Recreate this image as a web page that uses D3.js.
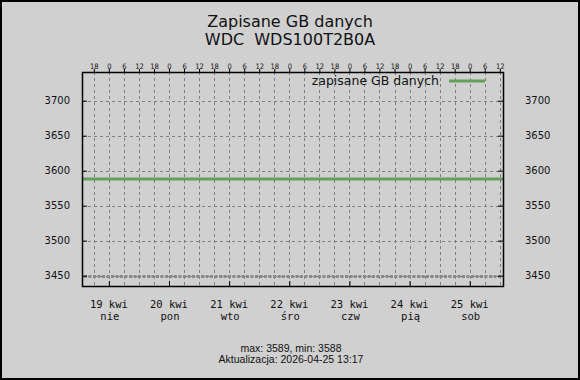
<!DOCTYPE html>
<html><head><meta charset="utf-8">
<script src="https://cdn.jsdelivr.net/npm/d3@7"></script>
<style>html,body{margin:0;padding:0;background:#d0d0d0;}svg{display:block;}text{white-space:pre;}</style>
</head><body>
<script>
const titleLines = ["Zapisane GB danych", "WDC  WDS100T2B0A"];
const seriesName = "zapisane GB danych";
const times = ["2026-04-18T13:17","2026-04-19T13:17","2026-04-20T13:17","2026-04-21T13:17","2026-04-22T13:17","2026-04-23T13:17","2026-04-24T13:17","2026-04-25T13:17"];
const values = [3588, 3588, 3588, 3588, 3588, 3588, 3588, 3588];
const yTicks = [3450, 3500, 3550, 3600, 3650, 3700];
const dayLabels = ["19 kwi","20 kwi","21 kwi","22 kwi","23 kwi","24 kwi","25 kwi"];
const weekdayLabels = ["nie","pon","wto","śro","czw","pią","sob"];
const dayDates = ["2026-04-19","2026-04-20","2026-04-21","2026-04-22","2026-04-23","2026-04-24","2026-04-25"];
const footerLines = ["max: 3589, min: 3588", "Aktualizacja: 2026-04-25 13:17"];
const refLineValue = 3450;

const W = 580, H = 380;
const L = 82, R = 503, T = 72, B = 286;
const parse = d3.timeParse("%Y-%m-%dT%H:%M");
const parseDay = d3.timeParse("%Y-%m-%d");
const data = times.map((t,i)=>({t:parse(t), v:values[i]}));

const x = d3.scaleTime().domain([parse(times[0]), parse(times[times.length-1])]).range([L, R]);
const y = d3.scaleLinear().domain([3435.2, 3741]).range([B, T]);

const svg = d3.select("body").append("svg").attr("width", W).attr("height", H);
svg.append("rect").attr("x",1).attr("y",1).attr("width",W-2).attr("height",H-2)
  .attr("fill","#d0d0d0").attr("stroke","#000").attr("stroke-width",2);

// titles
svg.append("g").selectAll("text").data(titleLines).join("text")
  .attr("x", 290).attr("y",(d,i)=>27+i*18).attr("text-anchor","middle")
  .attr("font-family","DejaVu Sans").attr("font-size",16).attr("fill","#111").text(d=>d);

// grid
const sixHour = d3.timeHour.every(6).range(x.domain()[0], x.domain()[1]).filter(d=>d.getHours()%6===0);
const grid = svg.append("g").attr("stroke","#808080").attr("stroke-width",1).attr("stroke-dasharray","3,3");
grid.selectAll("line.v").data(sixHour).join("line")
  .attr("x1",d=>Math.round(x(d))+0.5).attr("x2",d=>Math.round(x(d))+0.5).attr("y1",T).attr("y2",B);
grid.selectAll("line.h").data(yTicks).join("line")
  .attr("x1",L).attr("x2",R).attr("y1",d=>Math.round(y(d))+0.5).attr("y2",d=>Math.round(y(d))+0.5);

// reference dotted line
svg.append("line").attr("x1",L+2).attr("x2",R-2)
  .attr("y1",Math.round(y(refLineValue))+0.5).attr("y2",Math.round(y(refLineValue))+0.5)
  .attr("stroke","#8a8a8a").attr("stroke-width",3).attr("stroke-dasharray","3,1.5");

// data line
svg.append("path").datum(data)
  .attr("d", d3.line().x(d=>x(d.t)).y(d=>y(d.v)))
  .attr("fill","none").attr("stroke","#64a05a").attr("stroke-width",3);

// frame
svg.append("rect").attr("x",L+0.5).attr("y",T+0.5).attr("width",R-L).attr("height",B-T)
  .attr("fill","none").attr("stroke","#000").attr("stroke-width",1.5);

// y axes
const yl = svg.append("g").attr("transform",`translate(${L},0)`)
  .call(d3.axisLeft(y).tickValues(yTicks).tickSize(-5).tickPadding(12).tickFormat(d3.format("d")));
const yr = svg.append("g").attr("transform",`translate(${R},0)`)
  .call(d3.axisRight(y).tickValues(yTicks).tickSize(-5).tickPadding(22).tickFormat(d3.format("d")));
[yl,yr].forEach(g=>{
  g.select(".domain").remove();
  g.selectAll("line").attr("stroke","#000");
  g.selectAll("text").attr("font-family","DejaVu Sans").attr("font-size",10).attr("fill","#111");
});

// top axis
const xt = svg.append("g").attr("transform",`translate(0,${T})`)
  .call(d3.axisTop(x).tickValues(sixHour).tickSize(3).tickPadding(0).tickFormat(d=>String(d.getHours())));
xt.select(".domain").remove();
xt.selectAll("line").attr("stroke","#000");
xt.selectAll("text").attr("font-family","DejaVu Sans Condensed, DejaVu Sans").attr("font-size",7.5).attr("fill","#111");

// bottom axis
const days = dayDates.map(parseDay);
const xb = svg.append("g").attr("transform",`translate(0,${B})`)
  .call(d3.axisBottom(x).tickValues(days).tickSize(-5).tickFormat(""));
xb.select(".domain").remove();
xb.selectAll("line").attr("stroke","#000");
const lab = svg.append("g").attr("font-family","DejaVu Sans Mono").attr("font-size",10.5).attr("fill","#111").attr("text-anchor","middle");
lab.selectAll("text.d").data(days).join("text").attr("x",d=>x(d)).attr("y",308).text((d,i)=>dayLabels[i]);
lab.selectAll("text.w").data(days).join("text").attr("x",d=>x(d)+1).attr("y",320).text((d,i)=>weekdayLabels[i]);

// legend
svg.append("text").attr("x",439).attr("y",85).attr("text-anchor","end")
  .attr("font-family","DejaVu Sans").attr("font-size",12.5).attr("fill","#111").text(seriesName);
svg.append("line").attr("x1",449).attr("x2",485).attr("y1",81).attr("y2",81)
  .attr("stroke","#64a05a").attr("stroke-width",3);

// footer
svg.append("g").selectAll("text").data(footerLines).join("text")
  .attr("x",291).attr("y",(d,i)=>352+i*11).attr("text-anchor","middle")
  .attr("font-family","Liberation Sans").attr("font-size",10.5).attr("fill","#111").text(d=>d);
</script>
</body></html>
